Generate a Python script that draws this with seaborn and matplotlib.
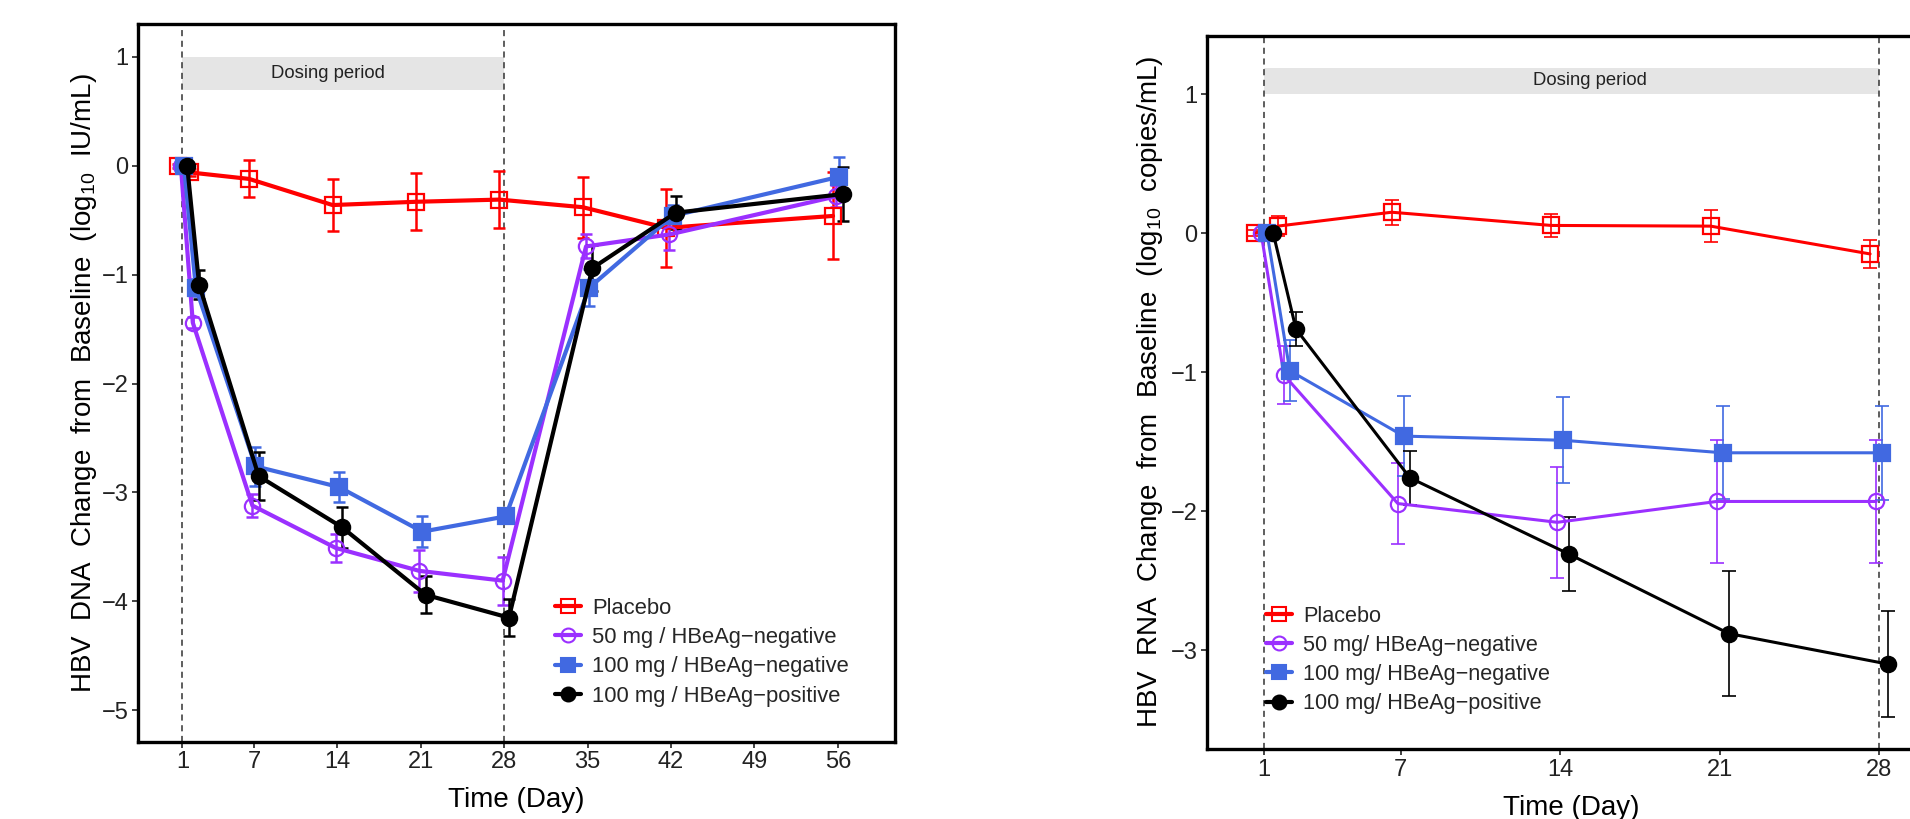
import pandas as pd
import seaborn as sns
import matplotlib.pyplot as plt
from matplotlib.lines import Line2D

sns.set_style('white')
plt.rcParams['font.family'] = ['Liberation Sans', 'DejaVu Sans']
plt.rcParams['mathtext.fontset'] = 'custom'
plt.rcParams['mathtext.rm'] = 'Liberation Sans'
plt.rcParams['mathtext.it'] = 'Liberation Sans'

COLORS = ['#FF0000', '#9B30FF', '#4169E1', '#000000']
MARKERS = ['s', 'o', 's', 'o']
FILLED = [False, False, True, True]
DODGE = [-0.4, -0.13, 0.13, 0.4]

DNA_GROUPS = ['Placebo', '50 mg / HBeAg\u2212negative', '100 mg / HBeAg\u2212negative', '100 mg / HBeAg\u2212positive']
DNA_DAYS = [1, 2, 7, 14, 21, 28, 35, 42, 56]
DNA_PLACEBO = [0, -0.06, -0.12, -0.36, -0.33, -0.31, -0.38, -0.57, -0.46]
DNA_PLACEBO_SE = [0.02, 0.03, 0.17, 0.24, 0.26, 0.26, 0.28, 0.36, 0.40]
DNA_50NEG = [0, -1.44, -3.12, -3.51, -3.72, -3.81, -0.74, -0.63, -0.28]
DNA_50NEG_SE = [0.02, 0.05, 0.11, 0.13, 0.19, 0.22, 0.11, 0.14, 0.10]
DNA_100NEG = [0, -1.12, -2.76, -2.95, -3.36, -3.22, -1.12, -0.46, -0.10]
DNA_100NEG_SE = [0.02, 0.08, 0.18, 0.14, 0.14, 0.05, 0.17, 0.10, 0.18]
DNA_100POS = [0, -1.09, -2.85, -3.32, -3.94, -4.15, -0.94, -0.43, -0.26]
DNA_100POS_SE = [0.03, 0.13, 0.22, 0.19, 0.17, 0.17, 0.21, 0.15, 0.25]

RNA_GROUPS = ['Placebo', '50 mg/ HBeAg\u2212negative', '100 mg/ HBeAg\u2212negative', '100 mg/ HBeAg\u2212positive']
RNA_DAYS = [1, 2, 7, 14, 21, 28]
RNA_PLACEBO = [0, 0.05, 0.15, 0.055, 0.05, -0.15]
RNA_PLACEBO_SE = [0.02, 0.07, 0.09, 0.085, 0.115, 0.10]
RNA_50NEG = [0, -1.02, -1.945, -2.08, -1.93, -1.93]
RNA_50NEG_SE = [0.01, 0.21, 0.29, 0.40, 0.44, 0.44]
RNA_100NEG = [0, -0.99, -1.46, -1.49, -1.58, -1.58]
RNA_100NEG_SE = [0.01, 0.22, 0.29, 0.31, 0.335, 0.34]
RNA_100POS = [0, -0.69, -1.76, -2.31, -2.88, -3.10]
RNA_100POS_SE = [0.01, 0.125, 0.195, 0.265, 0.45, 0.38]

DOSING_START, DOSING_END = 1, 28


def make_df(days, groups, means, ses):
    rows = []
    for g, m, s, off in zip(groups, means, ses, DODGE):
        for d, v, e in zip(days, m, s):
            rows.append({'group': g, 'day': d, 'pos': d + off, 'mean': v, 'se': e})
    return pd.DataFrame(rows)


def draw_panel(ax, df, groups, lw, ms, elw, cap, band, text_x):
    ax.fill_between([DOSING_START, DOSING_END], band[0], band[1], color='#E5E5E5', lw=0, zorder=0)
    ax.text(text_x, (band[0] + band[1]) / 2, 'Dosing period', ha='center', va='center', fontsize=13.3, color='#222222')
    for d in (DOSING_START, DOSING_END):
        ax.axvline(d, color='#333333', lw=1.1, ls=(0, (4, 3)), zorder=1)
    for i, g in enumerate(groups):
        sub = df[df['group'] == g]
        ax.errorbar(sub['pos'], sub['mean'], yerr=sub['se'], fmt='none', ecolor=COLORS[i],
                    elinewidth=elw, capsize=cap, capthick=elw, zorder=2 + i)
    for i, g in enumerate(groups):
        sub = df[df['group'] == g]
        sns.lineplot(data=sub, x='pos', y='mean', ax=ax, color=COLORS[i], lw=lw,
                     marker=MARKERS[i], markersize=ms,
                     markerfacecolor=COLORS[i] if FILLED[i] else 'none',
                     markeredgecolor=COLORS[i], markeredgewidth=1.6,
                     errorbar=None, legend=False, zorder=6 + i)
    for side in ['top', 'right', 'left', 'bottom']:
        ax.spines[side].set_linewidth(2.4)
        ax.spines[side].set_color('black')
    ax.tick_params(axis='both', which='major', direction='out', length=4, width=1.2,
                   labelsize=17, pad=3, colors='#222222', bottom=True, left=True)
    ax.set_xlabel('Time (Day)', fontsize=20, color='black', labelpad=10)


def make_legend(ax, groups, anchor, fs):
    handles = [Line2D([0], [0], color=COLORS[i], lw=3, marker=MARKERS[i], markersize=10,
                      markerfacecolor=COLORS[i] if FILLED[i] else 'none',
                      markeredgecolor=COLORS[i], markeredgewidth=1.5)
               for i in range(len(groups))]
    ax.legend(handles, groups, loc='upper left', bbox_to_anchor=anchor, frameon=False,
              fontsize=fs, handlelength=1.2, handletextpad=0.5, labelspacing=0.38,
              borderpad=0, borderaxespad=0)


fig = plt.figure(figsize=(19.1, 8.19), dpi=100)

# DNA panel
ax1 = fig.add_axes([0.0723, 0.0943, 0.3963, 0.876])
dna = make_df(DNA_DAYS, DNA_GROUPS,
              [DNA_PLACEBO, DNA_50NEG, DNA_100NEG, DNA_100POS],
              [DNA_PLACEBO_SE, DNA_50NEG_SE, DNA_100NEG_SE, DNA_100POS_SE])
draw_panel(ax1, dna, DNA_GROUPS, lw=3.0, ms=11, elw=1.8, cap=4.3, band=(0.7, 1.0), text_x=13.2)
ax1.set_xlim(-2.72, 60.8)
ax1.set_ylim(-5.29, 1.30)
ax1.set_xticks([1, 7, 14, 21, 28, 35, 42, 49, 56])
ax1.set_yticks([1, 0, -1, -2, -3, -4, -5])
ax1.set_ylabel(r'HBV  DNA  Change  from  Baseline  (log$_{10}$  IU/mL)', fontsize=20, color='black', labelpad=1.5)
make_legend(ax1, DNA_GROUPS, (0.551, 0.201), 15.8)

# RNA panel (cut at the right edge of the figure)
ax2 = fig.add_axes([0.632, 0.0855, 0.3817, 0.871])
rna = make_df(RNA_DAYS, RNA_GROUPS,
              [RNA_PLACEBO, RNA_50NEG, RNA_100NEG, RNA_100POS],
              [RNA_PLACEBO_SE, RNA_50NEG_SE, RNA_100NEG_SE, RNA_100POS_SE])
draw_panel(ax2, rna, RNA_GROUPS, lw=2.2, ms=11, elw=1.2, cap=5, band=(1.0, 1.19), text_x=15.3)
ax2.set_xlim(-1.5, 30.5)
ax2.set_ylim(-3.71, 1.42)
ax2.set_xticks([1, 7, 14, 21, 28])
ax2.set_yticks([1, 0, -1, -2, -3])
ax2.set_ylabel(r'HBV  RNA  Change  from  Baseline  (log$_{10}$  copies/mL)', fontsize=20, color='black')
make_legend(ax2, RNA_GROUPS, (0.081, 0.201), 15.6)

fig.savefig('out.png', dpi=100)
